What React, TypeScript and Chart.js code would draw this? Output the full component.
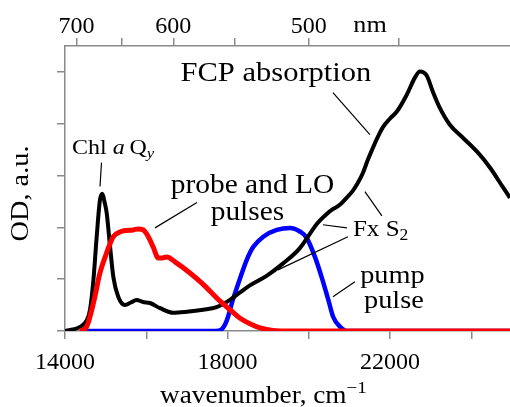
import React, { useEffect, useRef } from 'react';
import { Chart, registerables } from 'chart.js';

Chart.register(...registerables);

// ---------- data ----------
const X_MIN = 14000;
const X_MAX = 24950;
const Y_MIN = 0;
const Y_MAX = 5.5;

const bottomTicks = [14000, 16000, 18000, 20000, 22000, 24000];
const bottomTickLabels = [14000, 18000, 22000];
const topTicksNm = [700, 650, 600, 550, 500, 450];
const topTickLabelsNm = [700, 600, 500];
const leftTicks = [0, 1, 2, 3, 4, 5];

// FCP absorption (black)
const fcpX = [14000, 14370, 14530, 14615, 14700, 14780, 14860, 14920, 14970, 15025, 15110, 15190, 15310, 15475, 15620, 15760, 15920, 16090, 16340, 16665, 17000, 17400, 17730, 18060, 18300, 18550, 18970, 19360, 19780, 20030, 20200, 20440, 20590, 20770, 20940, 21085, 21200, 21330, 21450, 21580, 21700, 21820, 22000, 22170, 22410, 22610, 22730, 22900, 23050, 23220, 23470, 23790, 24140, 24460, 24780, 24950];
const fcpY = [0, 0.08, 0.2, 0.41, 0.99, 1.82, 2.53, 2.65, 2.5, 2.28, 1.62, 1.04, 0.66, 0.5, 0.55, 0.6, 0.56, 0.54, 0.44, 0.35, 0.37, 0.41, 0.46, 0.6, 0.74, 0.88, 1.07, 1.3, 1.6, 1.88, 2.07, 2.26, 2.35, 2.44, 2.58, 2.71, 2.85, 3.05, 3.3, 3.54, 3.75, 3.93, 4.1, 4.24, 4.56, 4.89, 5.01, 4.93, 4.62, 4.31, 3.98, 3.73, 3.46, 3.15, 2.77, 2.57];

// probe and LO pulses (red)
const probeX = [14370, 14530, 14700, 14860, 15025, 15190, 15350, 15500, 15680, 15800, 15925, 16050, 16170, 16295, 16400, 16500, 16750, 17075, 17400, 17730, 18060, 18300, 18550, 18800, 19120, 19500, 24950];
const probeY = [0, 0.08, 0.54, 1.12, 1.51, 1.82, 1.91, 1.94, 1.95, 1.97, 1.95, 1.82, 1.62, 1.41, 1.41, 1.43, 1.31, 1.12, 0.9, 0.64, 0.41, 0.25, 0.14, 0.06, 0.01, 0, 0];

// pump pulse (blue)
const pumpX = [14450, 17700, 17850, 17980, 18130, 18300, 18470, 18630, 18880, 19210, 19540, 19780, 19945, 20150, 20315, 20480, 20600, 20770, 20930, 24950];
const pumpY = [0, 0, 0.03, 0.2, 0.6, 1.0, 1.37, 1.62, 1.82, 1.95, 1.99, 1.92, 1.8, 1.43, 1.04, 0.6, 0.27, 0.08, 0, 0];

// ---------- annotations (data coordinates) ----------
type Run = { t: string; italic?: boolean; rel?: number; dy?: number };
type Label = { runs: Run[]; x: number; y: number; size: number; align: 'left' | 'center' };

const labels: Label[] = [
  { runs: [{ t: 'FCP absorption' }], x: 19190, y: 4.82, size: 28, align: 'center' },
  { runs: [{ t: 'Chl ' }, { t: 'a', italic: true }, { t: '\u2009Q' }, { t: 'y', italic: true, rel: 0.7, dy: 4 }], x: 14172, y: 3.42, size: 22, align: 'left' },
  { runs: [{ t: 'probe and LO' }], x: 18613, y: 2.67, size: 27, align: 'center' },
  { runs: [{ t: 'pulses' }], x: 18490, y: 2.15, size: 27, align: 'center' },
  { runs: [{ t: 'Fx S' }, { t: '2', rel: 0.7, dy: 4 }], x: 21085, y: 1.84, size: 23, align: 'left' },
  { runs: [{ t: 'pump' }], x: 22057, y: 0.93, size: 26, align: 'center' },
  { runs: [{ t: 'pulse' }], x: 22094, y: 0.445, size: 26, align: 'center' },
];

const leaders: [number, number, number, number][] = [
  [20593, 4.6, 21503, 3.79],
  [14898, 3.25, 14861, 2.79],
  [16214, 1.99, 17247, 2.48],
  [20347, 2.05, 20937, 1.99],
  [19240, 1.18, 20962, 1.82],
  [21380, 2.69, 21798, 2.22],
  [20593, 0.66, 21134, 0.95],
];

const FONT = "'Liberation Serif', 'Times New Roman', serif";
const SX = 1.09;
const AXIS_GRAY = '#8a8a8a';

function fontStr(size: number, italic?: boolean) {
  return `${italic ? 'italic ' : ''}${size}px ${FONT}`;
}

function drawRuns(ctx: CanvasRenderingContext2D, runs: Run[], x: number, y: number, size: number, align: 'left' | 'center') {
  let total = 0;
  for (const r of runs) {
    ctx.font = fontStr(size * (r.rel || 1), r.italic);
    total += ctx.measureText(r.t).width;
  }
  const start = align === 'center' ? x - (total * SX) / 2 : x;
  ctx.save();
  ctx.translate(start, y);
  ctx.scale(SX, 1);
  ctx.textAlign = 'left';
  ctx.textBaseline = 'alphabetic';
  let cx = 0;
  for (const r of runs) {
    ctx.font = fontStr(size * (r.rel || 1), r.italic);
    ctx.fillText(r.t, cx, r.dy || 0);
    cx += ctx.measureText(r.t).width;
  }
  ctx.restore();
}

const annotationPlugin = {
  id: 'annotations',
  afterDraw(chart: any) {
    const ctx: CanvasRenderingContext2D = chart.ctx;
    const xs = chart.scales.x;
    const ys = chart.scales.y;
    const area = chart.chartArea;
    ctx.save();
    ctx.fillStyle = '#000';
    ctx.strokeStyle = '#000';
    ctx.lineWidth = 1.2;
    for (const [x1, y1, x2, y2] of leaders) {
      ctx.beginPath();
      ctx.moveTo(xs.getPixelForValue(x1), ys.getPixelForValue(y1));
      ctx.lineTo(xs.getPixelForValue(x2), ys.getPixelForValue(y2));
      ctx.stroke();
    }
    for (const l of labels) {
      drawRuns(ctx, l.runs, xs.getPixelForValue(l.x), ys.getPixelForValue(l.y), l.size, l.align);
    }
    // top axis unit
    drawRuns(ctx, [{ t: 'nm' }], xs.getPixelForValue(1e7 / 465), area.top - 14, 24, 'center');
    // bottom axis title
    drawRuns(ctx, [{ t: 'wavenumber, cm' }, { t: '\u22121', rel: 0.7, dy: -10 }], area.left + 95, area.bottom + 72, 25, 'left');
    // left axis title
    ctx.save();
    ctx.translate(area.left - 37, (area.top + area.bottom) / 2 + 5);
    ctx.rotate(-Math.PI / 2);
    drawRuns(ctx, [{ t: 'OD, a.u.' }], 0, 0, 26, 'center');
    ctx.restore();
    ctx.restore();
  },
};

const pts = (xs: number[], ys: number[]) => xs.map((x, i) => ({ x, y: ys[i] }));

export default function App() {
  const ref = useRef<HTMLCanvasElement>(null);
  useEffect(() => {
    document.body.style.margin = '0';
    const gridCommon = {
      drawOnChartArea: false,
      drawTicks: true,
      tickLength: 8,
      color: AXIS_GRAY,
      lineWidth: 1.5,
    };
    const borderCommon = { display: true, color: AXIS_GRAY, width: 1.5 };
    const chart = new Chart(ref.current!, {
      type: 'line',
      data: {
        datasets: [
          {
            label: 'probe and LO pulses',
            data: pts(probeX, probeY),
            borderColor: '#ff0000',
            borderWidth: 5,
            pointRadius: 0,
            cubicInterpolationMode: 'monotone',
            fill: false,
          },
          {
            label: 'FCP absorption',
            data: pts(fcpX, fcpY),
            borderColor: '#000000',
            borderWidth: 4,
            pointRadius: 0,
            cubicInterpolationMode: 'monotone',
            fill: false,
          },
          {
            label: 'pump pulse',
            data: pts(pumpX, pumpY),
            borderColor: '#0000ff',
            borderWidth: 4.5,
            pointRadius: 0,
            cubicInterpolationMode: 'monotone',
            fill: false,
          },
        ],
      },
      options: {
        responsive: false,
        animation: false,
        devicePixelRatio: 1,
        layout: { padding: { left: 0, right: 0, top: 0, bottom: 0 } },
        plugins: { legend: { display: false }, tooltip: { enabled: false } },
        scales: {
          x: {
            type: 'linear',
            position: 'bottom',
            min: X_MIN,
            max: X_MAX,
            afterBuildTicks: (s: any) => {
              s.ticks = bottomTicks.map((v) => ({ value: v }));
            },
            afterFit: (s: any) => {
              s.height = 76;
            },
            ticks: {
              autoSkip: false,
              maxRotation: 0,
              padding: 9,
              color: '#000',
              font: { family: FONT, size: 24 },
              callback: (v: any) => (bottomTickLabels.includes(Number(v)) ? String(v) : ''),
            },
            grid: gridCommon,
            border: borderCommon,
          },
          x2: {
            type: 'linear',
            position: 'top',
            min: X_MIN,
            max: X_MAX,
            afterBuildTicks: (s: any) => {
              s.ticks = topTicksNm.map((nm) => ({ value: 1e7 / nm }));
            },
            afterFit: (s: any) => {
              s.height = 46;
            },
            ticks: {
              autoSkip: false,
              maxRotation: 0,
              padding: -3,
              color: '#000',
              font: { family: FONT, size: 24 },
              callback: (v: any) => {
                const nm = Math.round(1e7 / Number(v));
                return topTickLabelsNm.includes(nm) ? String(nm) : '';
              },
            },
            grid: gridCommon,
            border: borderCommon,
          },
          y: {
            type: 'linear',
            min: Y_MIN,
            max: Y_MAX,
            afterBuildTicks: (s: any) => {
              s.ticks = leftTicks.map((v) => ({ value: v }));
            },
            afterFit: (s: any) => {
              s.width = 65;
            },
            ticks: { padding: 0, callback: () => '' },
            grid: gridCommon,
            border: borderCommon,
          },
        },
      } as any,
      plugins: [annotationPlugin],
    });
    return () => chart.destroy();
  }, []);
  return <canvas ref={ref} width={510} height={407} style={{ display: 'block', width: 510, height: 407 }} />;
}
